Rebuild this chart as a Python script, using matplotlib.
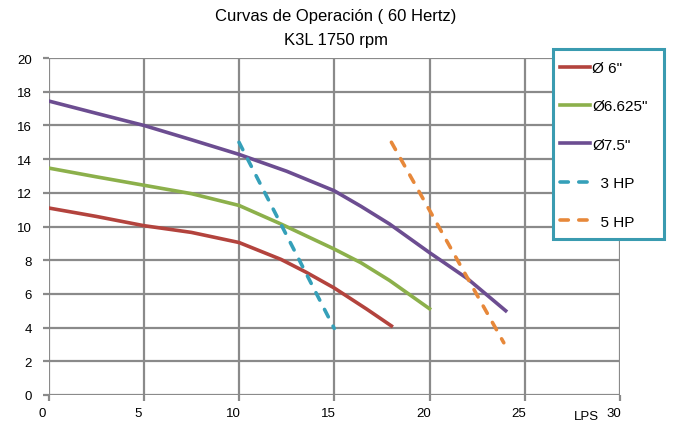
import numpy as np
import matplotlib.pyplot as plt
import matplotlib.patches as mpatches
import matplotlib.transforms as mtransforms

plt.rcParams["font.family"] = "Liberation Sans"
plt.rcParams["font.size"] = 9

# curvas de la bomba (LPS vs altura)
x_6 = [0, 2.5, 5, 7.5, 10, 12.2, 13.5, 15, 16.7, 18]
y_6 = [11.1, 10.6, 10.05, 9.65, 9.05, 8.05, 7.3, 6.35, 5.1, 4.1]

x_6625 = [0, 2.5, 5, 7.5, 10, 12.2, 15, 16.4, 17.9, 20]
y_6625 = [13.47, 12.95, 12.45, 11.95, 11.25, 10.15, 8.66, 7.85, 6.8, 5.12]

x_75 = [0, 2.5, 5, 7.5, 10, 12.5, 15, 16.4, 17.9, 20, 22, 24]
y_75 = [17.45, 16.72, 16.0, 15.15, 14.28, 13.28, 12.12, 11.2, 10.15, 8.45, 6.9, 5.0]

# lineas de potencia
x_3hp = [10, 15]
y_3hp = [15.0, 3.95]
x_5hp = [18, 23.9]
y_5hp = [15.0, 3.1]

xticks = [0, 5, 10, 15, 20, 25, 30]
yticks = [0, 2, 4, 6, 8, 10, 12, 14, 16, 18, 20]

c_red = "#B3433D"
c_green = "#8CB04B"
c_purple = "#6C4D91"
c_blue = "#35A0B9"
c_orange = "#E7883A"
c_grid = "#8A8A8A"
c_box = "#3A9BB0"

fig = plt.figure(figsize=(6.8, 4.27), dpi=100)
ax = fig.add_axes([48.5/680, 1-396/427, 571.5/680, 337/427])

dash = (0, (2.3, 2.9))
ax.plot(x_6, y_6, color=c_red, lw=2.6, label='Ø 6"')
ax.plot(x_6625, y_6625, color=c_green, lw=2.6, label='Ø6.625"')
ax.plot(x_75, y_75, color=c_purple, lw=2.6, label='Ø7.5"')
ax.plot(x_3hp, y_3hp, color=c_blue, lw=2.6, ls=dash, dash_capstyle="round", label="  3 HP")
ax.plot(x_5hp, y_5hp, color=c_orange, lw=2.6, ls=dash, dash_capstyle="round", label="  5 HP")

ax.set_xlim(0, 30)
ax.set_ylim(0, 20)
ax.set_xticks(xticks)
ax.set_yticks(yticks)
ax.grid(True, color=c_grid, lw=1.6)
ax.set_axisbelow(True)
for s in ax.spines.values():
    s.set_visible(False)
ax.tick_params(axis="both", color=c_grid, width=1.6, length=4, labelsize=9.5)
ax.tick_params(axis="y", pad=8)
ax.tick_params(axis="x", pad=5)
# etiquetas del eje x algo corridas a la izquierda
off = mtransforms.ScaledTranslation(-6/100, 0, fig.dpi_scale_trans)
for lab in ax.get_xticklabels():
    lab.set_transform(lab.get_transform() + off)

fig.text(599/680, 1-417/427, "LPS", ha="right", va="center", fontsize=9.5)

fig.text(336/680, 1-17/427, "Curvas de Operación ( 60 Hertz)", ha="center", va="center", fontsize=12)
fig.text(336/680, 1-40/427, "K3L 1750 rpm", ha="center", va="center", fontsize=12)

# recuadro de la leyenda
box = mpatches.Rectangle((553/680, 1-240/427), 111/680, 190/427, transform=fig.transFigure,
                         facecolor="white", edgecolor=c_box, lw=2.2, clip_on=False, zorder=4)
ax.add_patch(box)
leg = ax.legend(loc="upper left", bbox_to_anchor=(553/680, 1-55/427), bbox_transform=fig.transFigure,
                borderaxespad=0, frameon=False, handlelength=2.0, handletextpad=0.1,
                labelspacing=1.6, borderpad=0.45, fontsize=11)
leg.set_zorder(5)

plt.savefig("out.png", dpi=100)
